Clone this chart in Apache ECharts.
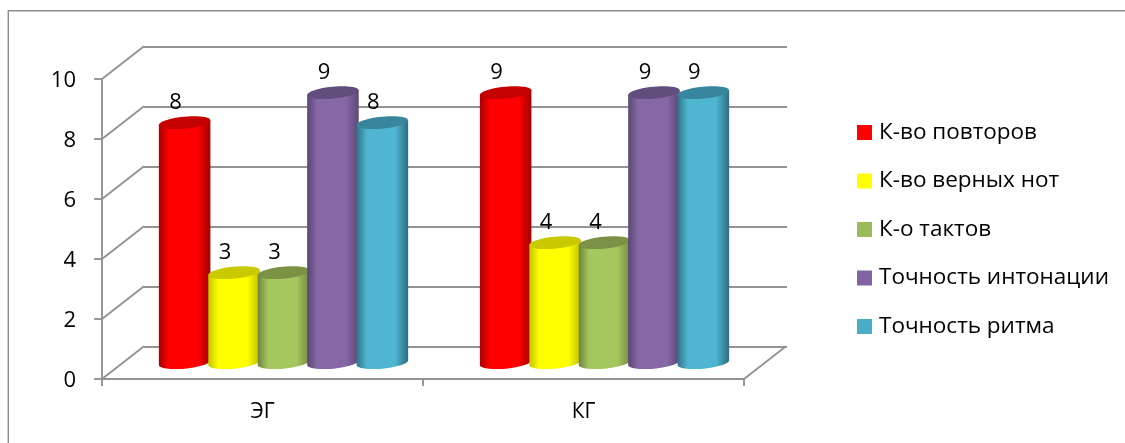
<!DOCTYPE html>
<html>
<head>
<meta charset="utf-8">
<style>html,body{margin:0;padding:0;background:#fff}#chart{width:1125px;height:443px}</style>
<script src="https://cdn.jsdelivr.net/npm/echarts@6/dist/echarts.min.js"></script>
</head>
<body>
<div id="chart"></div>
<script>
// Values per group
const categories = ['ЭГ', 'КГ'];
const seriesNames = ['К-во повторов', 'К-во верных нот', 'К-о тактов', 'Точность интонации', 'Точность ритма'];
const repeats = [8, 9];
const correctNotes = [3, 4];
const measures = [3, 4];
const intonation = [9, 9];
const rhythm = [8, 9];
const wallTicks = [0, 2, 4, 6, 8, 10];

const seriesValues = [repeats, correctNotes, measures, intonation, rhythm];

// Cylinder shading: flat colour, edge shade, centre, cap
const flatColors = ['#ff0000', '#ffff00', '#9bbb59', '#8064a2', '#4bacc6'];
const shades = [
  { edgeL: '#a80000', edgeR: '#a00000', mid: '#ff0000', cap: '#c40000' },
  { edgeL: '#c4c400', edgeR: '#c0c000', mid: '#ffff00', cap: '#c9c900' },
  { edgeL: '#6f8440', edgeR: '#75893f', mid: '#a6c65e', cap: '#7a9146' },
  { edgeL: '#5a4775', edgeR: '#5c4878', mid: '#8768a6', cap: '#624e7c' },
  { edgeL: '#2f7488', edgeR: '#2c6c80', mid: '#4fb5d0', cap: '#38869e' }
];

// Oblique projection of the chart box
const DEPTH_X = 42;
const DEPTH_Y = -32.7;
const STEP_RATIO = 0.154;
const BAR_RATIO = 1.047;
const TILT = -5.5 * Math.PI / 180;
const LINE = '#939393';
const LINE_W = 1.9;
const FONT = '"Open Sans", sans-serif';

function ellipsePoint(c, rx, ry, t) {
  const ct = Math.cos(t), st = Math.sin(t);
  const cs = Math.cos(TILT), sn = Math.sin(TILT);
  return [c[0] + rx * ct * cs - ry * st * sn, c[1] + rx * ct * sn + ry * st * cs];
}

function cylinder(seriesIdx) {
  return function (params, api) {
    const cat = api.value(0), val = api.value(1);
    const band = api.size([1, 0])[0];
    const step = band * STEP_RATIO;
    const rx = step * BAR_RATIO / 2;
    const ry = 6;
    const off = (seriesIdx - 2) * step;
    const top0 = api.coord([cat, val]);
    const base0 = api.coord([cat, 0]);
    const top = [top0[0] + DEPTH_X / 2 + off, top0[1] + DEPTH_Y / 2];
    const base = [base0[0] + DEPTH_X / 2 + off, base0[1] + DEPTH_Y / 2];
    const t0 = Math.atan2(-ry * Math.sin(TILT), rx * Math.cos(TILT));
    const body = [];
    for (let i = 0; i <= 32; i++) {
      body.push(ellipsePoint(base, rx, ry, t0 + Math.PI * i / 32));
    }
    body.push(ellipsePoint(top, rx, ry, t0 + Math.PI));
    body.push(ellipsePoint(top, rx, ry, t0));
    const cap = [];
    for (let i = 0; i < 48; i++) cap.push(ellipsePoint(top, rx, ry, Math.PI * 2 * i / 48));
    const s = shades[seriesIdx];
    return {
      type: 'group',
      children: [
        {
          type: 'polygon',
          shape: { points: body },
          style: {
            fill: {
              type: 'linear', x: 0, y: 0, x2: 1, y2: 0,
              colorStops: [
                { offset: 0, color: s.edgeL },
                { offset: 0.2, color: s.mid },
                { offset: 0.75, color: s.mid },
                { offset: 1, color: s.edgeR }
              ]
            }
          }
        },
        { type: 'polygon', shape: { points: cap }, style: { fill: s.cap } },
        {
          type: 'text',
          z2: 100,
          style: {
            text: String(val),
            x: top[0] - 9,
            y: top[1] - 20,
            align: 'center',
            verticalAlign: 'middle',
            fill: '#000',
            font: '22px ' + FONT
          }
        }
      ]
    };
  };
}

function wallLines(params, api) {
  const v = api.value(0);
  const cs = params.coordSys;
  const y = api.coord([0, v])[1];
  const style = { stroke: LINE, lineWidth: LINE_W };
  const children = [{
    type: 'line',
    shape: { x1: cs.x, y1: y, x2: cs.x + DEPTH_X, y2: y + DEPTH_Y },
    style: style
  }];
  if (v === 0) {
    children.push({
      type: 'line',
      shape: { x1: cs.x + cs.width, y1: y, x2: cs.x + cs.width + DEPTH_X, y2: y + DEPTH_Y },
      style: style
    });
  }
  return { type: 'group', children: children };
}

const chart = echarts.init(document.getElementById('chart'), null, { renderer: 'canvas' });

const axisLine = { show: true, lineStyle: { color: LINE, width: LINE_W } };

chart.setOption({
  animation: false,
  backgroundColor: '#fff',
  graphic: [{
    type: 'polyline',
    silent: true,
    shape: { points: [[8.3, 443], [8.3, 10.7], [1125, 10.7]] },
    style: { stroke: '#8c8c8c', lineWidth: 1.4, fill: null }
  }],
  legend: {
    orient: 'vertical',
    left: 857,
    top: 121,
    padding: 0,
    itemWidth: 15,
    itemHeight: 15,
    itemGap: 25.5,
    icon: 'rect',
    data: seriesNames,
    selectedMode: false,
    textStyle: { color: '#000', fontFamily: FONT, fontSize: 22.5, padding: [0, 0, 0, 2] }
  },
  grid: [
    { left: 102, top: 79, width: 642, height: 300 },
    { left: 102 + DEPTH_X, top: 79 + DEPTH_Y, width: 643, height: 300 }
  ],
  xAxis: [
    {
      type: 'category',
      gridIndex: 0,
      data: categories,
      axisLine: axisLine,
      axisTick: { show: true, length: 7, lineStyle: { color: LINE, width: LINE_W } },
      axisLabel: { color: '#000', fontFamily: FONT, fontSize: 21, margin: 23 }
    },
    { type: 'category', gridIndex: 1, data: categories, show: false }
  ],
  yAxis: [
    {
      type: 'value',
      gridIndex: 0,
      min: 0,
      max: 10,
      interval: 2,
      axisLine: axisLine,
      axisTick: { show: true, length: 8, lineStyle: { color: LINE, width: LINE_W } },
      axisLabel: { color: '#000', fontFamily: FONT, fontSize: 22, margin: 26, verticalAlign: 'top', lineHeight: 4 },
      splitLine: { show: false }
    },
    {
      type: 'value',
      gridIndex: 1,
      min: 0,
      max: 10,
      interval: 2,
      axisLine: { show: false },
      axisTick: { show: false },
      axisLabel: { show: false },
      splitLine: { show: true, lineStyle: { color: LINE, width: LINE_W } }
    }
  ],
  series: [
    {
      name: 'Ребра',
      type: 'custom',
      xAxisIndex: 0,
      yAxisIndex: 0,
      silent: true,
      data: wallTicks.map(v => [v]),
      encode: { y: 0 },
      renderItem: wallLines,
      z: 1
    }
  ].concat(seriesNames.map((name, i) => ({
    name: name,
    type: 'custom',
    xAxisIndex: 0,
    yAxisIndex: 0,
    itemStyle: { color: flatColors[i] },
    data: categories.map((c, k) => [k, seriesValues[i][k]]),
    encode: { x: 0, y: 1 },
    renderItem: cylinder(i),
    clip: false,
    z: 3
  })))
});
</script>
</body>
</html>
